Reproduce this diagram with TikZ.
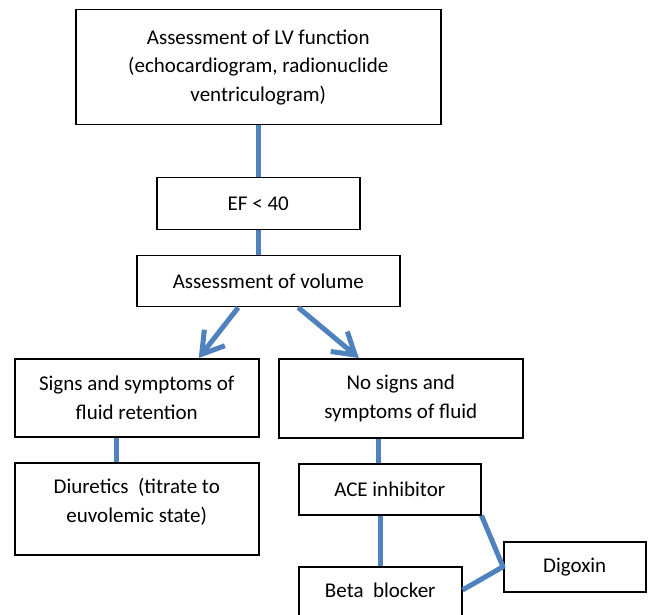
\documentclass[tikz,border=0pt]{standalone}
\usepackage{fontspec}
\setmainfont{Carlito}
\usetikzlibrary{arrows.meta}
\definecolor{officeblue}{RGB}{79,129,189}
\begin{document}
\begin{tikzpicture}[x=1pt,y=-1pt,
  txt/.style={font=\fontsize{21pt}{28.5pt}\selectfont, align=center, inner sep=0pt},
  box/.style={draw=black, line width=1.5pt, rectangle, inner sep=0pt, anchor=north west,
    font=\fontsize{21pt}{28.5pt}\selectfont, align=center},
  conn/.style={draw=officeblue, line width=5pt},
  arr/.style={conn, -{Straight Barb[length=21pt,width=26pt,line width=5pt]}}
]
\useasboundingbox (0,0) rectangle (649,615);
\begin{scope}
\clip (0,0) rectangle (649,615);
\node[box, minimum width=365pt, minimum height=115pt] (lv) at (75,9)
  {Assessment of LV function\\(echocardiogram, radionuclide\\ventriculogram)};
\node[box, minimum width=203pt, minimum height=52pt] (ef) at (156,177) {EF < 40};
\node[box, minimum width=263pt, minimum height=51pt] (vol) at (136,255) {Assessment of volume};
\node[box, minimum width=244pt, minimum height=78pt] (fl) at (14,358) {Signs and symptoms of\\fluid retention};
\node[box, minimum width=244pt, minimum height=79pt] (nf) at (278,358) {No signs and\\symptoms of fluid};
\node[box, minimum width=244pt, minimum height=92pt] (diu) at (14,462) {};
\node[txt] (diut) at ([yshift=-40pt]diu.north) {Diuretics\ \ (titrate to\\euvolemic state)};
\node[box, minimum width=182pt, minimum height=51pt] (ace) at (298,463) {ACE inhibitor};
\node[box, minimum width=163pt, minimum height=74pt] (beta) at (298,566) {};
\node[txt] (betat) at ([yshift=-24pt]beta.north) {Beta\ \ blocker};
\node[box, minimum width=142pt, minimum height=50pt] (dig) at (503,541) {Digoxin};
\coordinate (bj) at ([yshift=-24pt]beta.north east);

\draw[conn] (lv.south) -- (ef.north);
\draw[conn] (ef.south) -- (ef.south |- vol.north);
\draw[arr] ([xshift=-30pt]vol.south) -- ([xshift=62pt]fl.north);
\draw[arr] ([xshift=30pt]vol.south) -- ([xshift=-42pt]nf.north);
\draw[conn] ([xshift=-20pt]fl.south) -- ([xshift=-20pt]fl.south |- diu.north);
\draw[conn] ([xshift=-22pt]nf.south) -- ([xshift=-22pt]nf.south |- ace.north);
\draw[conn] (beta.north |- ace.south) -- (beta.north);
\draw[conn, line join=round] (ace.south east) -- (dig.west) -- (bj);
\end{scope}
\end{tikzpicture}
\end{document}
